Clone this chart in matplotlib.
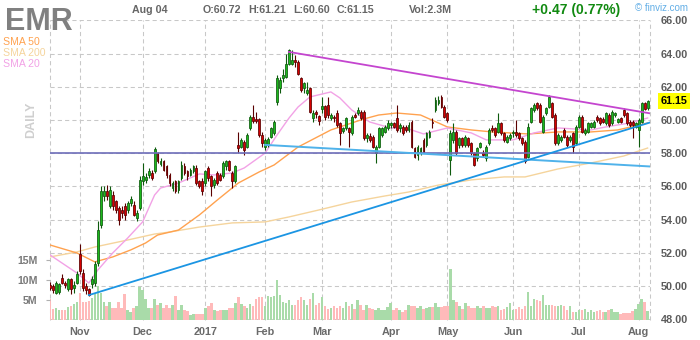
import matplotlib
matplotlib.use("Agg")
import matplotlib.pyplot as plt
import matplotlib.transforms as mtransforms
import numpy as np
import pandas as pd

plt.rcParams['font.family'] = ['Liberation Sans', 'DejaVu Sans']

TICKER = "EMR"
DATE_LABEL = "Aug 04"

# ---- trading calendar (Oct 18 2016 .. Aug 4 2017, NYSE holidays removed)
holidays = pd.to_datetime(['2016-11-24', '2016-12-26', '2017-01-02', '2017-01-16',
                           '2017-02-20', '2017-04-14', '2017-05-29', '2017-07-04'])
days = pd.bdate_range('2016-10-18', '2017-08-04')
days = days[~days.isin(holidays)]

# ---- daily OHLC (USD)
opens = [
    50.05, 50.00, 49.60, 49.65, 50.50, 50.20, 49.80, 50.40, 49.90, 50.20,
    51.90, 50.80, 50.00, 49.80, 50.10, 50.20, 51.40, 53.70, 55.40, 55.70, 54.80, 55.50, 55.10, 54.70, 54.60, 54.80, 54.60, 55.00, 54.90, 54.10, 54.70,
    56.30, 56.40, 56.70, 56.80, 56.90, 58.00, 57.35, 57.50, 57.20, 56.70, 55.90, 56.30, 55.80, 56.50, 57.20, 56.90, 56.70, 56.90, 57.10, 56.30, 56.30,
    56.20, 57.10, 56.60, 56.10, 56.80, 56.70, 56.60, 57.20, 57.50, 56.80, 56.30, 58.50, 58.40, 58.70, 58.40, 59.50, 60.20, 60.05, 60.05, 59.10,
    58.40, 58.50, 59.00, 59.20, 61.10, 61.90, 62.50, 62.60, 63.40, 63.40, 63.60, 63.50, 62.50, 61.90, 61.60, 61.90, 60.10, 60.50, 60.25,
    60.65, 60.85, 60.90, 60.10, 60.20, 60.40, 59.80, 59.35, 59.50, 59.50, 59.20, 60.30, 60.40, 60.50, 60.50, 58.90, 59.05, 59.00, 58.00, 58.40, 59.10, 59.30, 59.50,
    59.70, 59.80, 60.10, 59.50, 59.60, 59.60, 59.40, 59.90, 58.30, 57.90, 58.00, 58.80, 58.50, 59.00, 59.90, 60.60, 61.00, 61.40, 60.80,
    60.40, 57.60, 58.80, 59.30, 58.50, 58.90, 58.50, 58.90, 58.60, 58.00, 57.70, 58.40, 58.00, 57.70, 58.60, 59.50, 59.50, 59.30, 59.80, 59.20, 58.70, 58.90,
    59.20, 59.30, 59.20, 58.90, 58.70, 57.80, 59.90, 60.60, 61.00, 60.90, 59.30, 60.40, 60.80, 61.00, 60.30, 58.60, 58.80, 59.40, 59.00, 58.80, 59.20, 58.60,
    59.60, 60.20, 59.20, 59.30, 59.60, 59.60, 60.20, 60.10, 60.05, 59.80, 60.30, 59.80, 60.30, 59.90, 60.10, 60.60, 60.40, 59.90, 59.90, 59.60,
    59.40, 59.90, 61.00, 60.72,
]
highs = [
    50.25, 50.10, 50.30, 50.20, 50.70, 50.30, 50.50, 50.50, 50.30, 50.90,
    52.50, 51.00, 50.20, 49.90, 50.60, 51.50, 53.90, 56.00, 56.00, 56.10, 56.00, 55.70, 55.20, 54.80, 54.80, 55.00, 55.10, 55.40, 55.10, 54.60, 56.60,
    57.40, 56.80, 57.10, 57.00, 58.35, 58.10, 57.70, 57.60, 57.30, 56.80, 56.30, 56.40, 56.40, 57.50, 57.40, 57.00, 57.10, 57.30, 57.30, 56.40, 56.50,
    57.00, 57.20, 56.70, 56.50, 56.90, 56.80, 57.50, 57.60, 57.60, 56.90, 57.30, 59.30, 58.90, 58.80, 59.20, 60.30, 60.90, 60.50, 60.10, 59.30,
    58.90, 59.00, 59.60, 60.00, 62.70, 62.60, 63.10, 64.00, 64.30, 64.20, 63.90, 63.60, 62.60, 62.30, 62.30, 62.00, 60.60, 60.60, 60.30,
    61.40, 60.90, 61.40, 60.40, 60.30, 60.60, 59.90, 59.60, 60.20, 59.60, 60.30, 60.40, 60.80, 60.60, 60.60, 59.20, 59.20, 59.10, 58.50, 59.60, 59.60, 59.70, 60.00,
    59.90, 59.90, 60.90, 59.80, 59.70, 59.70, 59.90, 60.00, 58.40, 58.50, 58.40, 58.90, 59.30, 59.40, 60.10, 61.40, 61.45, 61.50, 60.90,
    60.50, 59.40, 59.80, 59.40, 59.00, 59.00, 59.10, 59.00, 58.70, 58.10, 58.40, 58.70, 58.20, 58.50, 59.50, 59.70, 59.60, 60.40, 59.90, 59.30, 59.10, 59.20,
    59.40, 60.00, 59.30, 59.00, 58.80, 59.80, 60.80, 61.00, 61.10, 61.00, 60.30, 60.80, 61.50, 61.10, 60.40, 59.20, 59.10, 59.50, 59.10, 59.10, 59.30, 59.70,
    60.30, 60.30, 59.50, 59.90, 59.90, 60.00, 60.30, 60.20, 60.20, 60.50, 60.40, 60.60, 60.50, 60.10, 60.20, 60.70, 60.50, 60.00, 60.00, 59.90,
    60.10, 61.10, 61.10, 61.21,
]
lows = [
    49.75, 49.60, 49.50, 49.50, 50.10, 49.90, 49.70, 49.50, 49.60, 50.10,
    50.70, 49.70, 49.50, 49.40, 49.90, 50.00, 51.20, 53.50, 55.10, 55.20, 54.70, 54.60, 54.40, 53.70, 54.10, 54.00, 54.40, 54.80, 54.20, 53.90, 54.60,
    56.10, 56.20, 56.50, 56.40, 56.80, 57.40, 57.20, 56.90, 56.50, 56.00, 55.70, 55.60, 55.60, 56.40, 56.70, 56.40, 56.60, 56.80, 56.10, 55.90, 55.50,
    56.00, 56.30, 55.40, 55.90, 56.10, 56.30, 56.50, 57.00, 56.90, 55.90, 56.20, 58.00, 58.30, 57.90, 58.30, 59.40, 59.80, 59.80, 59.00, 58.40,
    58.20, 58.40, 58.90, 59.10, 60.90, 61.60, 62.30, 62.50, 63.30, 63.30, 63.20, 62.70, 61.70, 61.60, 61.50, 60.40, 59.90, 60.10, 59.70,
    60.40, 60.00, 60.10, 60.00, 59.90, 59.60, 58.50, 59.20, 59.40, 58.40, 59.10, 60.10, 60.30, 60.00, 58.80, 58.70, 58.70, 58.30, 57.40, 58.30, 59.00, 59.20, 59.40,
    59.50, 59.50, 59.30, 59.30, 59.10, 59.30, 59.30, 58.30, 57.70, 57.60, 57.90, 58.00, 58.40, 58.90, 59.50, 60.50, 60.90, 60.70, 60.10,
    59.90, 56.70, 58.60, 57.90, 58.30, 58.40, 58.40, 58.40, 57.90, 57.20, 57.50, 58.30, 57.80, 57.50, 58.50, 59.30, 59.00, 59.20, 59.10, 58.70, 58.60, 58.80,
    59.00, 59.00, 58.80, 58.50, 57.40, 57.70, 59.80, 60.50, 60.60, 59.80, 59.20, 60.30, 60.70, 60.10, 58.50, 58.50, 58.70, 58.90, 58.40, 58.70, 58.00, 58.50,
    59.50, 59.20, 59.10, 59.20, 59.50, 59.50, 59.90, 59.70, 59.80, 59.70, 59.60, 59.70, 60.20, 59.80, 59.80, 60.20, 59.70, 59.60, 58.90, 59.50,
    58.40, 59.80, 60.60, 60.60,
]
closes = [
    49.85, 49.78, 50.20, 50.10, 50.20, 50.05, 50.40, 49.80, 50.05, 50.70,
    50.90, 49.90, 49.75, 49.45, 50.40, 51.30, 53.40, 55.70, 55.70, 55.40, 55.80, 54.80, 54.60, 54.00, 54.40, 54.30, 55.00, 55.25, 54.30, 54.40, 56.40,
    56.60, 56.55, 56.90, 56.50, 58.25, 57.50, 57.50, 57.00, 56.70, 56.20, 56.20, 55.70, 56.30, 57.30, 56.80, 56.60, 57.00, 57.20, 56.20, 56.00, 55.70,
    56.90, 56.50, 56.00, 56.40, 56.20, 56.40, 57.40, 57.50, 57.00, 56.30, 57.20, 58.30, 58.80, 58.20, 59.10, 60.20, 59.95, 59.95, 59.10, 58.60,
    58.80, 58.85, 59.50, 59.90, 62.50, 62.40, 62.70, 63.40, 64.20, 63.60, 63.50, 62.80, 61.80, 62.20, 61.80, 60.50, 60.45, 60.35, 59.95,
    60.85, 60.20, 60.30, 60.30, 60.10, 59.70, 59.20, 59.50, 60.10, 59.30, 60.20, 60.20, 60.60, 60.10, 58.90, 59.10, 58.80, 58.40, 58.40, 59.50, 59.50, 59.60, 59.80,
    59.80, 59.60, 59.40, 59.70, 59.20, 59.40, 59.70, 58.40, 57.80, 58.40, 58.30, 58.10, 59.20, 59.30, 59.80, 61.20, 61.20, 60.80, 60.20,
    60.00, 59.20, 59.30, 58.00, 58.90, 58.50, 59.00, 58.50, 58.00, 57.30, 58.30, 58.60, 57.90, 58.40, 59.40, 59.40, 59.10, 59.80, 59.20, 58.80, 59.00, 59.10,
    59.30, 59.10, 58.90, 58.60, 57.50, 59.60, 60.70, 60.90, 60.70, 59.90, 60.20, 60.70, 61.40, 60.20, 58.60, 59.10, 59.00, 59.00, 58.50, 59.00, 58.40, 59.60,
    60.20, 59.30, 59.40, 59.80, 59.80, 59.90, 60.00, 59.80, 59.90, 60.40, 59.70, 60.50, 60.40, 60.05, 59.90, 60.30, 59.80, 59.70, 59.70, 59.80,
    60.00, 61.00, 60.68, 61.15,
]
# ---- daily volume (millions of shares)
volumes = [
    5.2, 2.8, 3.0, 2.4, 2.6, 2.5, 3.2, 3.4, 4.0, 4.6,
    6.7, 4.4, 4.6, 4.8, 5.4, 6.6, 8.4, 6.7, 4.4, 3.4, 4.4, 3.0, 3.0, 4.4, 3.0, 6.4, 2.6, 1.9, 3.0, 3.4, 8.3,
    7.4, 5.2, 3.0, 3.0, 5.2, 3.8, 4.2, 3.0, 3.8, 3.0, 3.8, 6.0, 2.6, 3.8, 2.6, 2.2, 1.2, 1.4, 1.4, 1.6, 1.4,
    3.0, 3.4, 4.2, 2.6, 2.2, 2.6, 2.6, 2.6, 3.0, 3.0, 4.2, 5.8, 4.0, 3.4, 3.0, 4.0, 3.4, 5.2, 5.6, 5.8,
    3.4, 6.0, 5.6, 6.0, 10.0, 6.2, 4.6, 4.2, 5.0, 3.8, 3.8, 5.0, 5.8, 5.0, 3.8, 5.2, 6.7, 3.8, 4.2,
    5.8, 3.4, 2.8, 3.0, 3.4, 3.0, 3.4, 3.0, 4.4, 3.4, 4.0, 2.8, 5.0, 3.8, 2.6, 3.8, 3.0, 2.8, 2.6, 3.0, 2.6, 2.6, 3.2,
    4.2, 2.6, 3.0, 2.6, 1.9, 2.6, 3.8, 3.4, 3.4, 3.0, 3.4, 2.8, 3.0, 3.2, 3.2, 4.2, 3.2, 3.2, 3.4,
    3.4, 12.6, 5.0, 4.6, 3.4, 2.8, 4.2, 3.4, 3.0, 3.0, 3.4, 3.0, 3.4, 3.0, 3.0, 3.4, 3.2, 3.6, 2.6, 2.8, 3.2, 4.2,
    2.4, 2.8, 3.2, 2.8, 3.4, 6.9, 3.4, 5.2, 5.0, 4.8, 6.2, 3.8, 3.8, 3.8, 3.6, 3.4, 3.8, 3.4, 2.4, 3.4, 2.0, 2.0,
    2.6, 2.4, 2.8, 2.0, 2.6, 2.0, 2.2, 2.6, 2.0, 1.9, 2.4, 2.8, 2.0, 2.0, 1.6, 1.8, 1.8, 1.8, 2.2, 2.8,
    4.0, 5.2, 4.4, 2.3,
]

# ---- moving averages (day index, value)
sma20_day = [0, 9, 13, 16, 21, 26, 31, 35, 37, 43, 50, 55, 61, 65, 72, 76, 80, 83, 87, 94,
             97, 101, 107, 114, 120, 125, 133, 141, 146, 155, 162, 170, 181, 186, 194, 200]
sma20_val = [51.87, 50.78, 50.18, 50.96, 51.99, 52.89, 53.86, 55.48, 55.90, 56.20, 56.75, 56.69,
             56.81, 57.11, 58.01, 59.10, 60.12, 60.78, 61.39, 61.69, 61.33, 60.60, 59.88, 59.52,
             59.46, 59.16, 59.52, 59.22, 58.80, 58.80, 59.22, 59.52, 59.40, 59.58, 59.82, 60.12]
sma50_day = [0, 9, 15, 21, 27, 32, 36, 43, 50, 56, 63, 70, 75, 83, 94, 105, 110, 116, 124,
             133, 141, 148, 160, 170, 181, 190, 200]
sma50_val = [52.47, 51.99, 51.45, 51.75, 52.17, 52.59, 53.07, 53.37, 54.28, 55.18, 56.20, 56.87,
             57.29, 58.37, 59.40, 60.06, 60.30, 60.42, 60.30, 59.58, 59.40, 59.28, 59.16, 59.28,
             59.28, 59.40, 59.82]
sma200_day = [0, 9, 15, 26, 35, 40, 50, 61, 72, 80, 90, 101, 112, 120, 130, 141, 152, 159,
              170, 181, 192, 200]
sma200_val = [51.75, 52.05, 52.35, 52.77, 53.13, 53.25, 53.55, 53.80, 53.86, 54.16, 54.58, 55.06,
              55.42, 55.66, 56.08, 56.39, 56.57, 56.57, 57.05, 57.41, 57.83, 58.31]

# ---- trend lines (day index, price)
X_END = 200.8
resist_day, resist_px = [80, X_END], [64.10, 60.40]
fall_day, fall_px = [72, X_END], [58.50, 57.20]
rise_day, rise_px = [13, X_END], [49.45, 59.85]
support_level = 58.00

price_ticks = [48, 50, 52, 54, 56, 58, 60, 62, 64, 66]
vol_ticks = [5, 10, 15]
vol_tick_labels = ['5M', '10M', '15M']

# ---- figure geometry (pixels)
W, H = 700, 340
fig = plt.figure(figsize=(W / 100, H / 100), dpi=100)
fig.patch.set_facecolor('white')


def fx(px):
    return px / W


def fy(py):
    return 1 - py / H


left, right, top, bottom = 50, 650, 20.4, 320
ax_vol = fig.add_axes([fx(left), fy(bottom), (right - left) / W, (bottom - top) / H])
ax = ax_vol.twinx()

idx = np.arange(len(days))
o, h, l, c = map(np.array, (opens, highs, lows, closes))
up = c >= o

GRID = dict(color='#c8c8c8', lw=0.75, dashes=(4, 3))

# gridlines behind everything
hgrid = mtransforms.blended_transform_factory(ax_vol.transAxes, ax.transData)
for p in price_ticks:
    ax_vol.plot([0, 1], [p, p], transform=hgrid, zorder=0, **GRID)

month_idx = [i for i in range(1, len(days)) if days[i].month != days[i - 1].month]
month_lbl = ['2017' if days[i].month == 1 else days[i].strftime('%b') for i in month_idx]
for m in month_idx + [0, X_END]:
    ax_vol.axvline(m, zorder=0, clip_on=False, **GRID)

# volume
vol_colors = ['#a9dba9' if u else '#ffbaba' for u in up]
ax_vol.bar(idx, volumes, width=0.86, color=vol_colors, linewidth=0, zorder=1)
ax_vol.set_ylim(0, 74.5)
ax_vol.set_xlim(0, X_END)

# moving averages
ax.plot(sma200_day, sma200_val, color='#f5d49c', lw=1.0, zorder=2)
ax.plot(sma50_day, sma50_val, color='#ffa24f', lw=1.0, zorder=2)
ax.plot(sma20_day, sma20_val, color='#f2a2e6', lw=1.0, zorder=2)

# candles
edge = ['#0d5a0d' if u else '#5a0000' for u in up]
fill = ['#1cb81c' if u else '#d60000' for u in up]
ax.vlines(idx, l, h, colors=edge, lw=0.8, zorder=3)
ax.bar(idx, np.maximum(np.abs(c - o), 0.05), bottom=np.minimum(o, c), width=0.62,
       color=fill, edgecolor=edge, linewidth=0.55, zorder=4)

# trend lines
ax.plot([0, X_END], [support_level, support_level], color='#6d6db9', lw=1.2, zorder=5)
ax.plot(fall_day, fall_px, color='#4fb2ea', lw=1.4, zorder=5)
ax.plot(rise_day, rise_px, color='#1b95e3', lw=1.3, zorder=5)
ax.plot(resist_day, resist_px, color='#c445cf', lw=1.3, zorder=5)

ax.set_ylim(47.95, 66.0)
ax.set_xlim(0, X_END)

for a in (ax, ax_vol):
    for s in a.spines.values():
        s.set_visible(False)

# price axis on the right
ax.set_yticks(price_ticks)
ax.set_yticklabels([f"{p:.2f}" for p in price_ticks])
ax.tick_params(axis='y', length=0, pad=7.5, labelsize=7.8, labelcolor='#5c5c5c')
for t in ax.get_yticklabels():
    t.set_fontweight('bold')

# volume axis on the left
ax_vol.set_yticks(vol_ticks)
ax_vol.set_yticklabels(vol_tick_labels)
ax_vol.tick_params(axis='y', length=3, width=0.8, color='#b0b0b0', pad=6,
                   labelsize=7.6, labelcolor='#7a7a7a')
for t in ax_vol.get_yticklabels():
    t.set_fontweight('bold')

ax_vol.set_xticks(month_idx)
ax_vol.set_xticklabels(month_lbl)
ax_vol.tick_params(axis='x', length=0, pad=5, labelsize=7.8, labelcolor='#6a6a6a')
for t in ax_vol.get_xticklabels():
    t.set_fontweight('bold')

# last price tag
tag_tr = mtransforms.blended_transform_factory(ax.transAxes, ax.transData)
ax.annotate(f"{closes[-1]:.2f}", xy=(1, closes[-1]), xycoords=tag_tr, xytext=(7.5, 0),
            textcoords='offset points', ha='left', va='center', fontsize=7.8,
            fontweight='bold', color='black', annotation_clip=False,
            bbox=dict(boxstyle='square,pad=0.25', fc='#ffff00', ec='none'))

# header
fig.text(fx(5), fy(30), TICKER, fontsize=22, fontweight='bold', color='#808080', va='baseline')
hdr = dict(fontsize=7.7, fontweight='bold', color='#666666', va='center')
fig.text(fx(132), fy(10), DATE_LABEL, **hdr)
fig.text(fx(203), fy(10), f"O:{opens[-1]:.2f}", **hdr)
fig.text(fx(248), fy(10), f"H:{highs[-1]:.2f}", **hdr)
fig.text(fx(293), fy(10), f"L:{lows[-1]:.2f}", **hdr)
fig.text(fx(337), fy(10), f"C:{closes[-1]:.2f}", **hdr)
fig.text(fx(409), fy(10), f"Vol:{volumes[-1]:.1f}M", **hdr)
chg = closes[-1] - closes[-2]
fig.text(fx(532), fy(10), f"{chg:+.2f} ({chg / closes[-2] * 100:.2f}%)", fontsize=10,
         fontweight='bold', color='#118a11', va='center')
fig.text(fx(635), fy(8), "\u00a9 finviz.com", fontsize=7, color='#62aee6', va='center')

# legend
fig.text(fx(3), fy(42), "SMA 50", fontsize=7.6, color='#ffa24f', va='center')
fig.text(fx(3), fy(53), "SMA 200", fontsize=7.6, color='#f5d49c', va='center')
fig.text(fx(3), fy(64), "SMA 20", fontsize=7.6, color='#f2a2e6', va='center')

fig.text(fx(31), fy(120), "DAILY", rotation=90, ha='center', va='center', fontsize=9,
         fontweight='bold', color='#cfcfcf')

fig.savefig('out.png', dpi=100, facecolor='white')
